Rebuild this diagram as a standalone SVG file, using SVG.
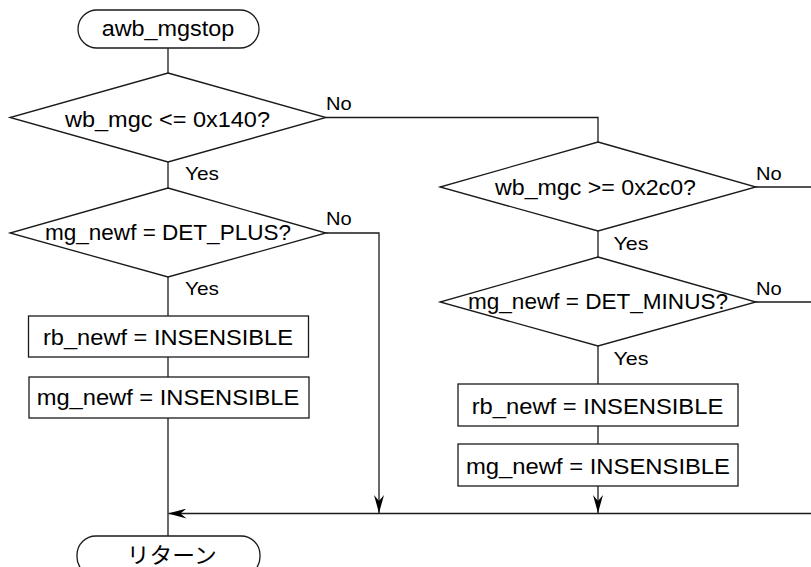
<svg xmlns="http://www.w3.org/2000/svg" width="811" height="567" viewBox="0 0 811 567">
<defs>
<style>
.s{fill:#fff;stroke:#1a1a1a;stroke-width:1.3}
.c{fill:none;stroke:#1a1a1a;stroke-width:1.3}
.t{font-family:"Liberation Sans",Arial,sans-serif;font-size:21.5px;fill:#000}
.l{font-family:"Liberation Sans",Arial,sans-serif;font-size:18.5px;fill:#000}
.j{font-family:"Liberation Sans","Noto Sans CJK JP",sans-serif;font-size:22px;fill:#000}
</style>
<marker id="ah" viewBox="0 0 18 10" refX="18" refY="5" markerWidth="18" markerHeight="10" markerUnits="userSpaceOnUse" orient="auto">
<path d="M18,5 L0,0 L6,5 L0,10 Z" fill="#000"/>
</marker>
</defs>
<rect width="811" height="567" fill="#fff"/>
<g id="connectors">
<path class="c" d="M168,48 V73"/>
<path class="c" d="M168,162 V188"/>
<path class="c" d="M168,277 V316"/>
<path class="c" d="M168,357 V377"/>
<path class="c" d="M168,418 V536"/>
<path class="c" d="M326,117.5 H598 V142"/>
<path class="c" d="M326,233 H379 V513" marker-end="url(#ah)"/>
<path class="c" d="M598,231 V257"/>
<path class="c" d="M598,346 V384"/>
<path class="c" d="M598,426 V444"/>
<path class="c" d="M598,486 V513" marker-end="url(#ah)"/>
<path class="c" d="M756,187 H815"/>
<path class="c" d="M756,302 H815"/>
<path class="c" d="M815,513.5 H168.5" marker-end="url(#ah)"/>
<text class="l" x="326" y="110" textLength="25.7" lengthAdjust="spacingAndGlyphs">No</text>
<text class="l" x="185" y="180" textLength="34" lengthAdjust="spacingAndGlyphs">Yes</text>
<text class="l" x="326" y="225" textLength="25.7" lengthAdjust="spacingAndGlyphs">No</text>
<text class="l" x="185" y="295" textLength="34" lengthAdjust="spacingAndGlyphs">Yes</text>
<text class="l" x="756" y="179.5" textLength="25.7" lengthAdjust="spacingAndGlyphs">No</text>
<text class="l" x="613.5" y="249.5" textLength="35" lengthAdjust="spacingAndGlyphs">Yes</text>
<text class="l" x="756" y="295" textLength="25.7" lengthAdjust="spacingAndGlyphs">No</text>
<text class="l" x="613.5" y="365" textLength="35" lengthAdjust="spacingAndGlyphs">Yes</text>
</g>
<g id="start">
<rect class="s" x="78" y="10" width="181" height="38" rx="19" ry="19"/>
<text class="t" x="101.7" y="36" textLength="132.6" lengthAdjust="spacingAndGlyphs">awb_mgstop</text>
</g>
<g id="dec1">
<polygon class="s" points="168,73 326,117.5 168,162 10,117.5"/>
<text class="t" x="65" y="126.7" textLength="205" lengthAdjust="spacingAndGlyphs">wb_mgc &lt;= 0x140?</text>
</g>
<g id="dec2">
<polygon class="s" points="168,188 326,233 168,277 10,233"/>
<text class="t" x="45" y="239.5" textLength="246" lengthAdjust="spacingAndGlyphs">mg_newf = DET_PLUS?</text>
</g>
<g id="proc1">
<rect class="s" x="28.5" y="316" width="280" height="41"/>
<text class="t" x="43" y="345" textLength="250" lengthAdjust="spacingAndGlyphs">rb_newf = INSENSIBLE</text>
</g>
<g id="proc2">
<rect class="s" x="29" y="377" width="280" height="41"/>
<text class="t" x="36.7" y="405" textLength="262.6" lengthAdjust="spacingAndGlyphs">mg_newf = INSENSIBLE</text>
</g>
<g id="dec3">
<polygon class="s" points="598,142 756,187 598,231 440,187"/>
<text class="t" x="495" y="195" textLength="201" lengthAdjust="spacingAndGlyphs">wb_mgc &gt;= 0x2c0?</text>
</g>
<g id="dec4">
<polygon class="s" points="598,257 756,302 598,346 440,302"/>
<text class="t" x="468" y="309.3" textLength="260" lengthAdjust="spacingAndGlyphs">mg_newf = DET_MINUS?</text>
</g>
<g id="proc3">
<rect class="s" x="458" y="384" width="280" height="42"/>
<text class="t" x="471.7" y="414" textLength="251.6" lengthAdjust="spacingAndGlyphs">rb_newf = INSENSIBLE</text>
</g>
<g id="proc4">
<rect class="s" x="458" y="444" width="280" height="42"/>
<text class="t" x="466" y="474" textLength="264" lengthAdjust="spacingAndGlyphs">mg_newf = INSENSIBLE</text>
</g>
<g id="end">
<rect class="s" x="77" y="536" width="183" height="40" rx="19" ry="19"/>
<text class="j" x="126.7" y="563" textLength="90" lengthAdjust="spacingAndGlyphs">リターン</text>
</g>
</svg>
